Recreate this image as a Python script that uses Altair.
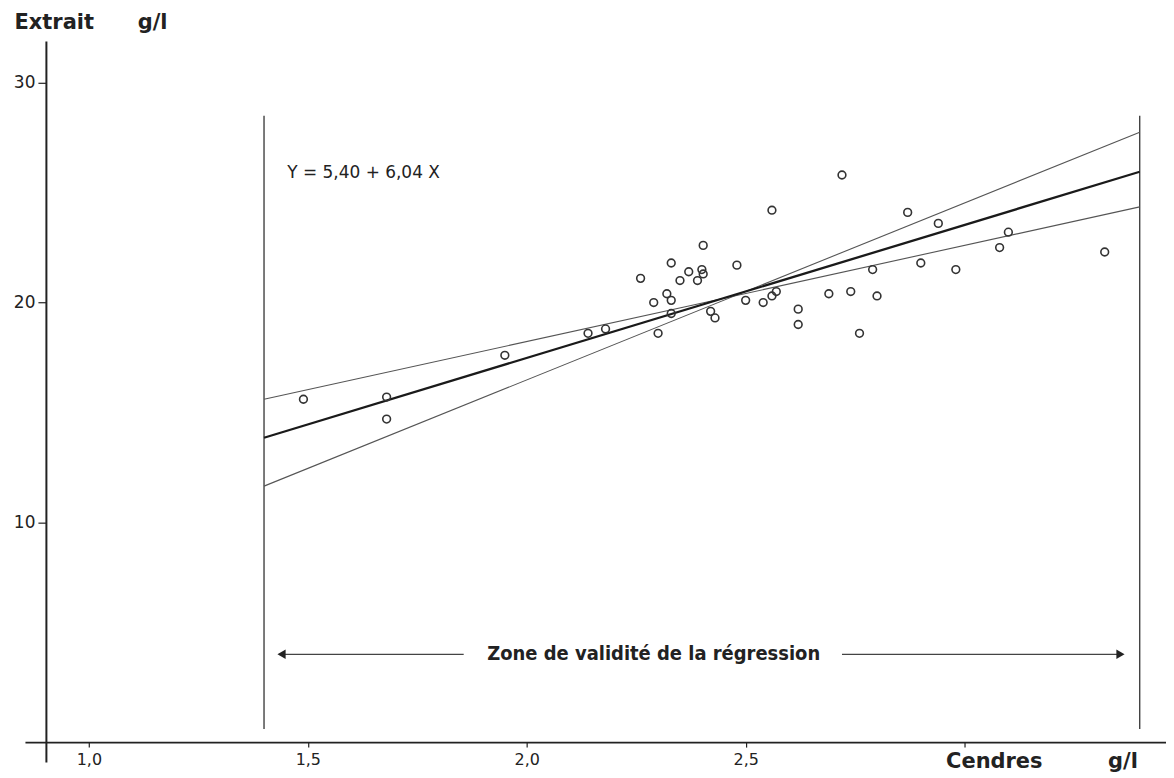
import altair as alt
import pandas as pd

# ---- data ----
cendres = [1.49, 1.68, 1.68, 1.95, 2.14, 2.18, 2.26, 2.29, 2.30, 2.32, 2.33, 2.33, 2.33, 2.35,
           2.37, 2.39, 2.40, 2.403, 2.403, 2.42, 2.43, 2.48, 2.50, 2.54, 2.56, 2.57, 2.56, 2.62,
           2.62, 2.69, 2.72, 2.74, 2.76, 2.79, 2.80, 2.87, 2.90, 2.94, 2.98, 3.08, 3.10, 3.32]
extrait = [15.6, 15.7, 14.7, 17.6, 18.6, 18.8, 21.1, 20.0, 18.6, 20.4, 20.1, 21.8, 19.5, 21.0,
           21.4, 21.0, 21.5, 21.3, 22.6, 19.6, 19.3, 21.7, 20.1, 20.0, 20.3, 20.5, 24.2, 19.7,
           19.0, 20.4, 25.8, 20.5, 18.6, 21.5, 20.3, 24.1, 21.8, 23.6, 21.5, 22.5, 23.2, 22.3]

zone_x = [1.4, 3.4]
regression_y = [13.85, 25.95]
band_low_slope_y = [15.6, 24.35]
band_high_slope_y = [11.65, 27.75]
zone_bottom = [0.6, 0.6]
zone_top = [28.5, 28.5]

equation_label = ["Y = 5,40 + 6,04 X"]
equation_x = [1.453]
equation_y = [25.9]

zone_label = ["Zone de validité de la régression"]
zone_label_x = [2.29]
zone_label_y = [4.0]
arrow_start = [1.445, 2.72]
arrow_end = [1.856, 3.35]
arrow_y = [4.0, 4.0]
arrow_head_x = [1.44, 3.356]
arrow_head_shape = ["triangle-left", "triangle-right"]

x_ticks = [1.0, 1.5, 2.0, 2.5, 3.0]
y_ticks = [10, 20, 30]
x_domain = [0.854, 3.46]
y_domain = [-0.9, 31.9]

# ---- tables ----
pts = pd.DataFrame({"x": cendres, "y": extrait})
reg = pd.DataFrame({"x": zone_x, "y": regression_y})
bands = pd.DataFrame({
    "x": zone_x + zone_x,
    "y": band_low_slope_y + band_high_slope_y,
    "s": ["a", "a", "b", "b"],
})
zone = pd.DataFrame({"x": zone_x, "y": zone_bottom, "y2": zone_top})
eq = pd.DataFrame({"x": equation_x, "y": equation_y, "t": equation_label})
zl = pd.DataFrame({"x": zone_label_x, "y": zone_label_y, "t": zone_label})
arr = pd.DataFrame({"x": arrow_start, "x2": arrow_end, "y": arrow_y})
heads = pd.DataFrame({"x": arrow_head_x, "y": arrow_y, "shape": arrow_head_shape})

FONT = "DejaVu Sans"
NB = "\u00a0"

x_axis = alt.Axis(
    values=x_ticks,
    labelExpr="datum.value == 3 ? '' : replace(format(datum.value, '.1f'), '.', ',')",
    offset=-20,
    grid=False,
    domainColor="#222", domainWidth=1.6,
    tickColor="#222", tickSize=5, tickWidth=1.2,
    labelFont=FONT, labelFontSize=16, labelColor="#222", labelPadding=4,
    title="Cendres" + NB * 9 + "g/l",
    titleFont="DejaVu Sans", titleFontSize=21, titleFontWeight="bold", titleColor="#222",
    titleAlign="left", titleX=923, titleY=19, titleBaseline="middle",
)
y_axis = alt.Axis(
    values=y_ticks,
    offset=-21,
    grid=False,
    domainColor="#222", domainWidth=2,
    tickColor="#222", tickSize=8, tickWidth=1.2,
    labelFont=FONT, labelFontSize=17, labelColor="#222", labelPadding=3,
    title="Extrait" + NB * 6 + "g/l",
    titleFont="DejaVu Sans", titleFontSize=21, titleFontWeight="bold", titleColor="#222",
    titleAngle=0, titleAlign="left", titleX=-32, titleY=-18, titleBaseline="middle",
)

def X(field="x"):
    return alt.X(f"{field}:Q", scale=alt.Scale(domain=x_domain, nice=False, zero=False), axis=x_axis)

def Y(field="y"):
    return alt.Y(f"{field}:Q", scale=alt.Scale(domain=y_domain, nice=False, zero=False), axis=y_axis)

points = alt.Chart(pts).mark_point(
    shape="circle", filled=False, size=60, strokeWidth=1.6, color="#333", opacity=1
).encode(x=X(), y=Y())

reg_line = alt.Chart(reg).mark_line(color="#1a1a1a", strokeWidth=2.3).encode(x=X(), y=Y())

band_lines = alt.Chart(bands).mark_line(color="#555", strokeWidth=1.1).encode(
    x=X(), y=Y(), detail="s:N"
)

zone_lines = alt.Chart(zone).mark_rule(color="#333", strokeWidth=1.3).encode(
    x=X(), y=Y(), y2=alt.Y2("y2:Q")
)

eq_text = alt.Chart(eq).mark_text(
    align="left", baseline="middle", font="DejaVu Sans", fontSize=17, color="#222"
).encode(x=X(), y=Y(), text="t:N")

zone_text = alt.Chart(zl).mark_text(
    align="center", baseline="middle", font="DejaVu Sans Condensed", fontSize=20,
    fontWeight="bold", color="#222"
).encode(x=X(), y=Y(), text="t:N")

arrow_lines = alt.Chart(arr).mark_rule(color="#444", strokeWidth=1.3).encode(
    x=X(), x2=alt.X2("x2:Q"), y=Y()
)

arrow_heads = alt.Chart(heads).mark_point(filled=True, size=90, color="#222", opacity=1).encode(
    x=X(), y=Y(),
    shape=alt.Shape("shape:N", scale=None, legend=None),
)

chart = alt.layer(
    zone_lines, band_lines, reg_line, points, eq_text, zone_text, arrow_lines, arrow_heads
).properties(
    width=1144,
    height=723,
    autosize=alt.AutoSizeParams(type="none"),
    padding={"left": 17, "top": 32, "right": 0, "bottom": 13},
    background="white",
).configure_view(stroke=None)

chart.save("out.html", embed_options={"renderer": "svg", "actions": False})
